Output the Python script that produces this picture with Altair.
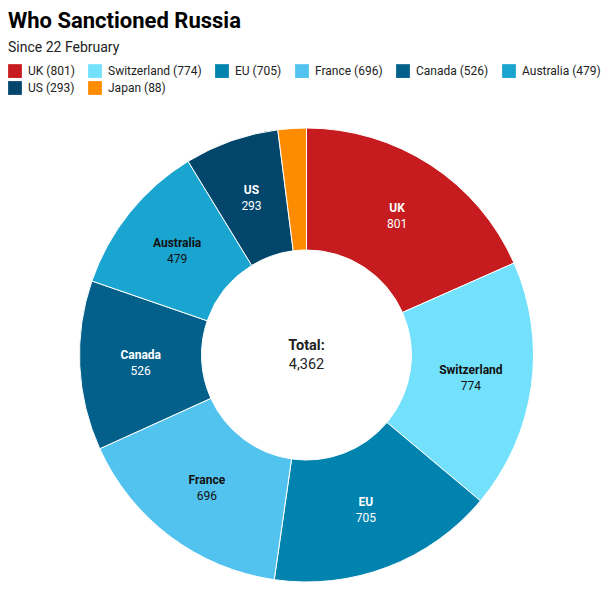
import altair as alt
import pandas as pd

# slices, clockwise from twelve o'clock
countries = ["UK", "Switzerland", "EU", "France", "Canada", "Australia", "US", "Japan"]
values = [801, 774, 705, 696, 526, 479, 293, 88]
palette = ["#c61c1f", "#73e1fb", "#0083ae", "#52c3ef", "#03608a", "#1aa5d0", "#02466c", "#ff8c00"]
light_slices = ["Switzerland", "France", "Australia"]
no_label = ["Japan"]

W, H = 597, 462
R_OUT, R_IN, R_LABEL = 227, 105, 166

df = pd.DataFrame({
    "country": countries,
    "value": values,
    "idx": range(len(countries)),
})
df["legend"] = [f"{c} ({v})" for c, v in zip(countries, values)]

base = alt.Chart(df).encode(
    theta=alt.Theta("value:Q", stack=True),
    order=alt.Order("idx:Q"),
)

arcs = base.mark_arc(
    outerRadius=R_OUT, innerRadius=R_IN, stroke="white", strokeWidth=1
).encode(
    color=alt.Color(
        "legend:N",
        scale=alt.Scale(domain=list(df["legend"]), range=palette),
        sort=list(df["legend"]),
        legend=alt.Legend(
            title=None,
            orient="none",
            legendX=0,
            legendY=-60,
            direction="horizontal",
            columns=6,
            symbolType="square",
            symbolSize=190,
            symbolStrokeWidth=0,
            symbolOpacity=1,
            labelFontSize=12,
            labelColor="#222",
            labelOffset=6,
            columnPadding=13,
            rowPadding=3,
            padding=0,
        ),
    ),
    tooltip=["country:N", "value:Q"],
)

label_color = alt.condition(
    alt.FieldOneOfPredicate(field="country", oneOf=light_slices),
    alt.value("#111"),
    alt.value("white"),
)

labelled = base.transform_filter(
    ~alt.FieldOneOfPredicate(field="country", oneOf=no_label)
)

names = labelled.mark_text(
    radius=R_LABEL, dy=-8, fontSize=12, fontWeight="bold"
).encode(text="country:N", color=label_color)

nums = labelled.mark_text(
    radius=R_LABEL, dy=8, fontSize=12
).encode(text="value:Q", color=label_color)

total_df = pd.DataFrame({"head": ["Total:"], "total": [f"{sum(values):,}"]})
total_head = alt.Chart(total_df).mark_text(
    fontSize=14.5, fontWeight="bold", dy=-9, color="#222"
).encode(text="head:N", x=alt.value(W / 2), y=alt.value(H / 2))
total_num = alt.Chart(total_df).mark_text(
    fontSize=14.5, dy=10, color="#222"
).encode(text="total:N", x=alt.value(W / 2), y=alt.value(H / 2))

chart = alt.layer(arcs, names, nums, total_head, total_num).properties(
    width=W,
    height=H,
    padding={"left": 0, "top": 2, "right": 0, "bottom": 0},
    title=alt.TitleParams(
        text="Who Sanctioned Russia",
        subtitle="Since 22 February",
        anchor="start",
        fontSize=22,
        fontWeight="bold",
        color="#000",
        subtitleFontSize=14,
        subtitleColor="#222",
        subtitlePadding=8,
        offset=8,
    ),
).configure(font="Roboto").configure_view(stroke=None)

chart.save("out.html", embed_options={"renderer": "svg", "actions": False})
